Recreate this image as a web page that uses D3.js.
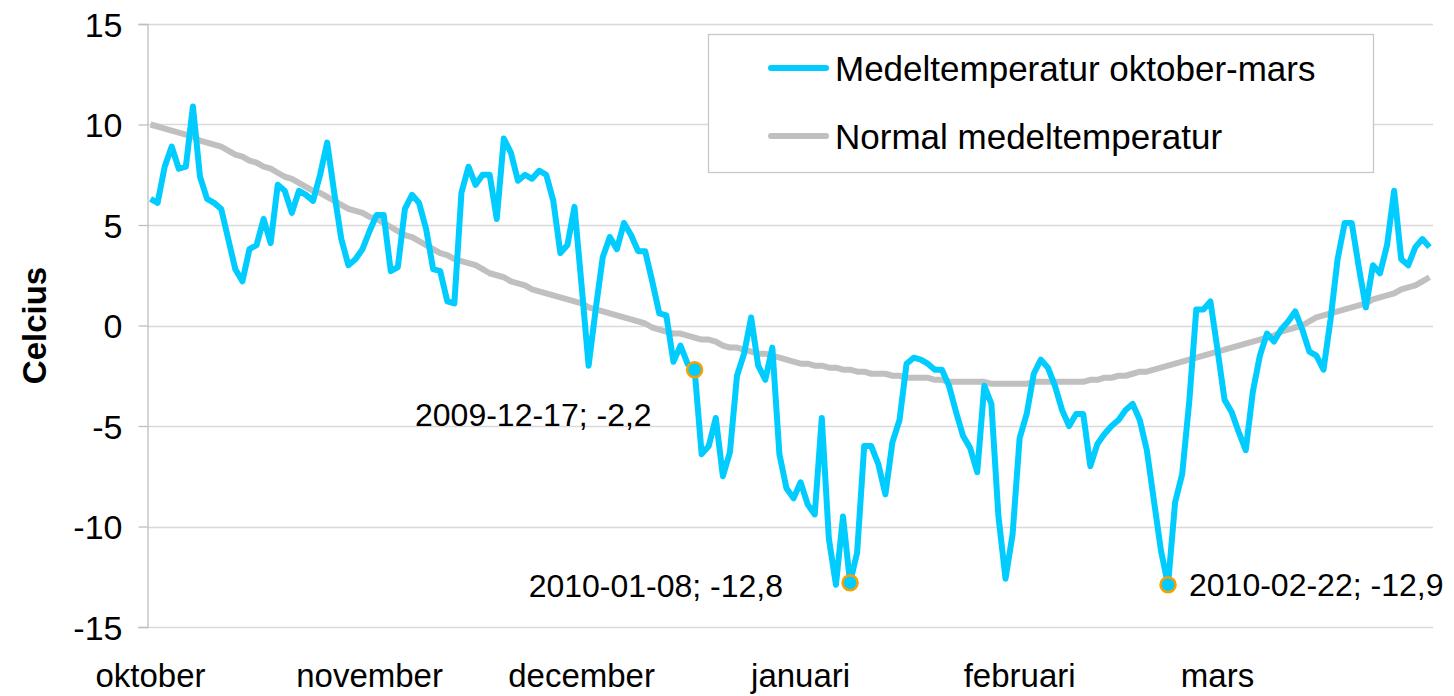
<!DOCTYPE html>
<html>

<head>
    <meta charset="utf-8">
    <title>Medeltemperatur oktober-mars</title>
    <script src="https://d3js.org/d3.v7.min.js"></script>
    <style>
        body { margin: 0; background: #fff; }
        text { font-family: "Liberation Sans", Arial, sans-serif; fill: #000; }
    </style>
</head>

<body>
    <script>
        // daily mean temperature, 2009-10-01 .. 2010-03-31
        const meanTemp = [
            6.3, 6.1, 7.9, 8.9, 7.8, 7.9, 10.9, 7.4, 6.3, 6.1,
            5.8, 4.3, 2.8, 2.2, 3.8, 4.0, 5.3, 4.1, 7.0, 6.7,
            5.6, 6.7, 6.5, 6.2, 7.5, 9.1, 6.6, 4.3, 3.0, 3.3,
            3.8, 4.7, 5.5, 5.5, 2.7, 2.9, 5.8, 6.5, 6.1, 4.8,
            2.8, 2.7, 1.2, 1.1, 6.6, 7.9, 7.0, 7.5, 7.5, 5.3,
            9.3, 8.6, 7.2, 7.5, 7.3, 7.7, 7.5, 6.2, 3.6, 4.0,
            5.9, 2.0, -2.0, 0.8, 3.4, 4.4, 3.8, 5.1, 4.5, 3.7,
            3.7, 2.2, 0.6, 0.5, -1.8, -1.0, -1.9, -2.2, -6.4, -6.0,
            -4.6, -7.5, -6.3, -2.5, -1.4, 0.4, -2.0, -2.7, -1.1, -6.4,
            -8.1, -8.6, -7.8, -8.9, -9.4, -4.6, -10.6, -12.9, -9.5, -12.8,
            -11.3, -6.0, -6.0, -6.9, -8.4, -5.8, -4.7, -1.9, -1.6, -1.7,
            -1.9, -2.2, -2.2, -3.0, -4.3, -5.5, -6.1, -7.3, -3.0, -3.9,
            -9.5, -12.6, -10.4, -5.6, -4.4, -2.4, -1.7, -2.1, -3.0, -4.2,
            -5.0, -4.4, -4.4, -7.0, -5.9, -5.4, -5.0, -4.7, -4.2, -3.9,
            -4.7, -6.2, -8.7, -11.2, -12.9, -8.8, -7.4, -3.8, 0.8, 0.8,
            1.2, -1.2, -3.7, -4.3, -5.3, -6.2, -3.3, -1.5, -0.4, -0.8,
            -0.2, 0.2, 0.7, -0.2, -1.3, -1.5, -2.2, 0.3, 3.3, 5.1,
            5.1, 2.9, 0.9, 3.0, 2.6, 4.0, 6.7, 3.3, 3.0, 3.9,
            4.3, 3.9
        ];

        const normalTemp = [
            10.0, 9.9, 9.8, 9.7, 9.6, 9.5, 9.4, 9.2, 9.1, 9.0,
            8.9, 8.7, 8.5, 8.4, 8.2, 8.1, 7.9, 7.8, 7.6, 7.4,
            7.3, 7.1, 6.9, 6.7, 6.6, 6.4, 6.2, 6.0, 5.8, 5.7,
            5.6, 5.4, 5.3, 5.1, 4.9, 4.7, 4.5, 4.4, 4.2, 4.0,
            3.8, 3.6, 3.5, 3.3, 3.2, 3.1, 3.0, 2.8, 2.6, 2.5,
            2.4, 2.2, 2.1, 2.0, 1.8, 1.7, 1.6, 1.5, 1.4, 1.3,
            1.2, 1.1, 0.9, 0.8, 0.7, 0.6, 0.5, 0.4, 0.3, 0.2,
            0.1, -0.1, -0.2, -0.3, -0.4, -0.4, -0.5, -0.6, -0.7, -0.7,
            -0.8, -1.0, -1.1, -1.1, -1.2, -1.3, -1.4, -1.4, -1.5, -1.6,
            -1.7, -1.8, -1.9, -1.9, -2.0, -2.0, -2.1, -2.1, -2.2, -2.2,
            -2.3, -2.3, -2.4, -2.4, -2.4, -2.5, -2.5, -2.6, -2.6, -2.6,
            -2.6, -2.7, -2.7, -2.8, -2.8, -2.8, -2.8, -2.8, -2.8, -2.9,
            -2.9, -2.9, -2.9, -2.9, -2.9, -2.8, -2.8, -2.8, -2.8, -2.8,
            -2.8, -2.8, -2.8, -2.7, -2.7, -2.6, -2.6, -2.5, -2.5, -2.4,
            -2.3, -2.3, -2.2, -2.1, -2.0, -1.9, -1.8, -1.7, -1.6, -1.5,
            -1.4, -1.3, -1.2, -1.1, -1.0, -0.9, -0.8, -0.7, -0.6, -0.5,
            -0.3, -0.2, -0.1, 0.0, 0.2, 0.4, 0.5, 0.6, 0.7, 0.8,
            0.9, 1.0, 1.1, 1.3, 1.4, 1.5, 1.6, 1.8, 1.9, 2.0,
            2.2, 2.4
        ];

        const monthLabels = ["oktober", "november", "december", "januari", "februari", "mars"];
        const monthStarts = ["2009-10-01", "2009-11-01", "2009-12-01", "2010-01-01", "2010-02-01", "2010-03-01"];
        const yTicks = [-15, -10, -5, 0, 5, 10, 15];
        const seriesNames = ["Medeltemperatur oktober-mars", "Normal medeltemperatur"];
        const highlightDates = ["2009-12-17", "2010-01-08", "2010-02-22"];

        const fmt = d3.utcFormat("%Y-%m-%d");
        const days = d3.utcDay.range(new Date(Date.UTC(2009, 9, 1)), new Date(Date.UTC(2010, 3, 1))).map(fmt);

        const width = 1454;
        const height = 696;
        const plot = { left: 147, right: 1433, top: 24, bottom: 627 };
        const blue = "#00ccff";
        const grey = "#c0c0c0";

        const x = d3.scalePoint()
            .domain(days)
            .range([plot.left, plot.right])
            .padding(0.5);

        const y = d3.scaleLinear()
            .domain([-15, 15])
            .range([plot.bottom, plot.top]);

        const svg = d3.select("body")
            .append("svg")
            .attr("width", width)
            .attr("height", height);

        // gridlines
        svg.append("g")
            .selectAll("line")
            .data(yTicks)
            .enter()
            .append("line")
            .attr("x1", plot.left)
            .attr("x2", plot.right)
            .attr("y1", d => Math.round(y(d)) + 0.5)
            .attr("y2", d => Math.round(y(d)) + 0.5)
            .attr("stroke", "#d9d9d9")
            .attr("stroke-width", 1.3);

        // y axis (plain hyphen for negatives, like the original)
        const yAxis = svg.append("g")
            .attr("transform", `translate(${plot.left + 0.5},0)`)
            .call(d3.axisLeft(y).tickValues(yTicks).tickSize(9).tickPadding(16).tickFormat(d => String(d)));
        yAxis.select(".domain").attr("stroke", "#bfbfbf").attr("stroke-width", 1.3);
        yAxis.selectAll(".tick line").attr("stroke", "#bfbfbf").attr("stroke-width", 1.3);
        yAxis.selectAll(".tick text")
            .attr("font-size", "34px")
            .attr("font-family", "Liberation Sans, Arial, sans-serif")
            .attr("fill", "#000")
            .attr("dy", "0.36em");

        svg.append("text")
            .attr("transform", `translate(46,${(plot.top + plot.bottom) / 2}) rotate(-90)`)
            .attr("text-anchor", "middle")
            .attr("font-size", "33px")
            .attr("font-weight", "bold")
            .text("Celcius");

        // month labels
        svg.append("g")
            .selectAll("text")
            .data(monthLabels)
            .enter()
            .append("text")
            .attr("x", (d, i) => x(monthStarts[i]))
            .attr("y", 687)
            .attr("text-anchor", "middle")
            .attr("font-size", "33px")
            .text(d => d);

        const line = d3.line()
            .x((d, i) => x(days[i]))
            .y(d => y(d));

        svg.append("path")
            .datum(normalTemp)
            .attr("d", line)
            .attr("fill", "none")
            .attr("stroke", grey)
            .attr("stroke-width", 6)
            .attr("stroke-linejoin", "round");

        svg.append("path")
            .datum(meanTemp)
            .attr("d", line)
            .attr("fill", "none")
            .attr("stroke", blue)
            .attr("stroke-width", 6)
            .attr("stroke-linejoin", "round");

        // highlighted minimum points
        const placement = [
            { anchor: "end", dx: -43, dy: 56 },
            { anchor: "end", dx: -67, dy: 14 },
            { anchor: "start", dx: 21, dy: 11 }
        ];

        const marks = svg.append("g")
            .selectAll("g")
            .data(highlightDates)
            .enter()
            .append("g")
            .attr("transform", d => `translate(${x(d)},${y(meanTemp[days.indexOf(d)])})`);

        marks.append("circle")
            .attr("r", 7.5)
            .attr("fill", blue)
            .attr("stroke", "#f7a000")
            .attr("stroke-width", 2.5);

        marks.append("text")
            .attr("x", (d, i) => placement[i].dx)
            .attr("y", (d, i) => placement[i].dy)
            .attr("text-anchor", (d, i) => placement[i].anchor)
            .attr("font-size", "32px")
            .text(d => `${d}; ${String(meanTemp[days.indexOf(d)]).replace(".", ",")}`);

        // legend
        const legend = svg.append("g");
        legend.append("rect")
            .attr("x", 708.5)
            .attr("y", 34.5)
            .attr("width", 665)
            .attr("height", 138)
            .attr("fill", "#fff")
            .attr("stroke", "#c8c8c8")
            .attr("stroke-width", 1.3);

        const legendItems = legend.selectAll("g")
            .data(seriesNames)
            .enter()
            .append("g")
            .attr("transform", (d, i) => `translate(0,${68 + i * 68})`);

        legendItems.append("line")
            .attr("x1", 771)
            .attr("x2", 826)
            .attr("stroke", (d, i) => i === 0 ? blue : grey)
            .attr("stroke-width", 6)
            .attr("stroke-linecap", "round");

        legendItems.append("text")
            .attr("x", 835)
            .attr("y", 12.5)
            .attr("font-size", "35px")
            .text(d => d);
    </script>
</body>

</html>
